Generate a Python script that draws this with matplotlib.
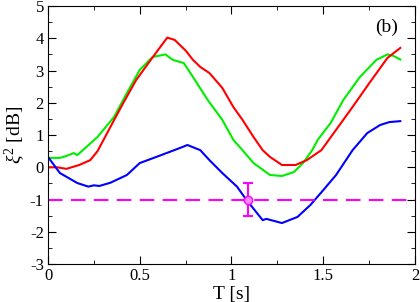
import matplotlib
matplotlib.use('Agg')
import matplotlib.pyplot as plt
from matplotlib.ticker import MultipleLocator

plt.rcParams['font.family'] = ['Liberation Serif', 'DejaVu Serif']
plt.rcParams['mathtext.fontset'] = 'custom'
plt.rcParams['mathtext.rm'] = 'Liberation Serif'
plt.rcParams['mathtext.it'] = 'Liberation Serif:italic'

# red curve
red_t = [0.0, 0.05, 0.10, 0.17, 0.23, 0.27, 0.34, 0.41, 0.48, 0.56, 0.65, 0.69, 0.75, 0.79,
         0.83, 0.88, 0.95, 1.01, 1.06, 1.12, 1.17, 1.21, 1.275, 1.35, 1.41, 1.49, 1.57,
         1.66, 1.75, 1.85, 1.92]
red_y = [0.0, 0.0, -0.05, 0.07, 0.22, 0.50, 1.25, 1.99, 2.70, 3.33, 4.02, 3.95, 3.62, 3.33,
         3.11, 2.92, 2.46, 1.87, 1.47, 0.94, 0.53, 0.32, 0.07, 0.07, 0.22, 0.53, 1.16,
         1.87, 2.60, 3.39, 3.70]

# green curve
green_t = [0.0, 0.065, 0.10, 0.14, 0.16, 0.19, 0.27, 0.36, 0.43, 0.50, 0.57, 0.64, 0.68,
           0.74, 0.79, 0.87, 0.95, 1.01, 1.06, 1.12, 1.21, 1.275, 1.34, 1.39, 1.44, 1.47,
           1.54, 1.61, 1.70, 1.79, 1.85, 1.88, 1.92]
green_y = [0.29, 0.29, 0.35, 0.44, 0.38, 0.53, 0.94, 1.56, 2.30, 3.02, 3.42, 3.50, 3.33,
           3.23, 2.80, 2.09, 1.47, 0.85, 0.53, 0.13, -0.24, -0.27, -0.15, 0.13, 0.53, 0.85,
           1.37, 2.09, 2.80, 3.33, 3.50, 3.46, 3.34]

# blue curve
blue_t = [0.0, 0.065, 0.16, 0.22, 0.25, 0.28, 0.34, 0.43, 0.50, 0.59, 0.66, 0.72, 0.76,
          0.83, 0.88, 0.95, 1.03, 1.08, 1.17, 1.19, 1.275, 1.36, 1.43, 1.50, 1.57, 1.66,
          1.74, 1.81, 1.86, 1.92]
blue_y = [0.32, -0.18, -0.49, -0.60, -0.56, -0.58, -0.48, -0.24, 0.13, 0.32, 0.47, 0.60, 0.69,
          0.53, 0.22, -0.18, -0.60, -1.00, -1.64, -1.60, -1.73, -1.54, -1.17, -0.71, -0.24,
          0.53, 1.06, 1.31, 1.40, 1.43]

ref_level = -1.0
point_t = [1.09]
point_y = [-1.0]
point_err = [0.5]

fig = plt.figure(figsize=(4.2, 3.02), dpi=100)
ax = fig.add_axes([0.1143, 0.1258, 0.8737, 0.8543])

ax.plot(green_t, green_y, color='#00ee00', lw=1.5)
ax.plot(red_t, red_y, color='#ff0000', lw=1.5)
ax.plot(blue_t, blue_y, color='#0000ff', lw=1.5)
ax.axhline(ref_level, color='#ff00ff', lw=1.5, dashes=(7, 4))
ax.errorbar(point_t, point_y, yerr=point_err, fmt='o', color='#ff00ff', mfc='#ff88ff',
            mec='#ff00ff', ms=6, capsize=3.5, elinewidth=1.5, capthick=1.5)

ax.set_xlim(0, 2)
ax.set_ylim(-3, 5)
ax.xaxis.set_major_locator(MultipleLocator(0.5))
ax.xaxis.set_minor_locator(MultipleLocator(0.25))
ax.yaxis.set_major_locator(MultipleLocator(1))
ax.yaxis.set_minor_locator(MultipleLocator(0.5))
ax.set_xticklabels(['0', '0.5', '1', '1.5', '2'])
ax.set_xticks([0, 0.5, 1, 1.5, 2])
ax.set_xticklabels(['0', '0.5', '1', '1.5', '2'])
ax.set_yticks(range(-3, 6))
ax.set_yticklabels([str(v).replace('\u2212', '-') for v in range(-3, 6)])
ax.tick_params(which='both', direction='in', top=True, right=True, labelsize=12, pad=3)
ax.tick_params(which='major', length=6)
ax.tick_params(which='minor', length=3)

ax.set_xlabel('T [s]', fontsize=14, labelpad=1)
ax.set_ylabel(r'$\xi^2$ [dB]', fontsize=14, labelpad=2)
ax.text(0.955, 0.95, '(b)', transform=ax.transAxes, ha='right', va='top', fontsize=14)

fig.savefig('out.png', dpi=100)
